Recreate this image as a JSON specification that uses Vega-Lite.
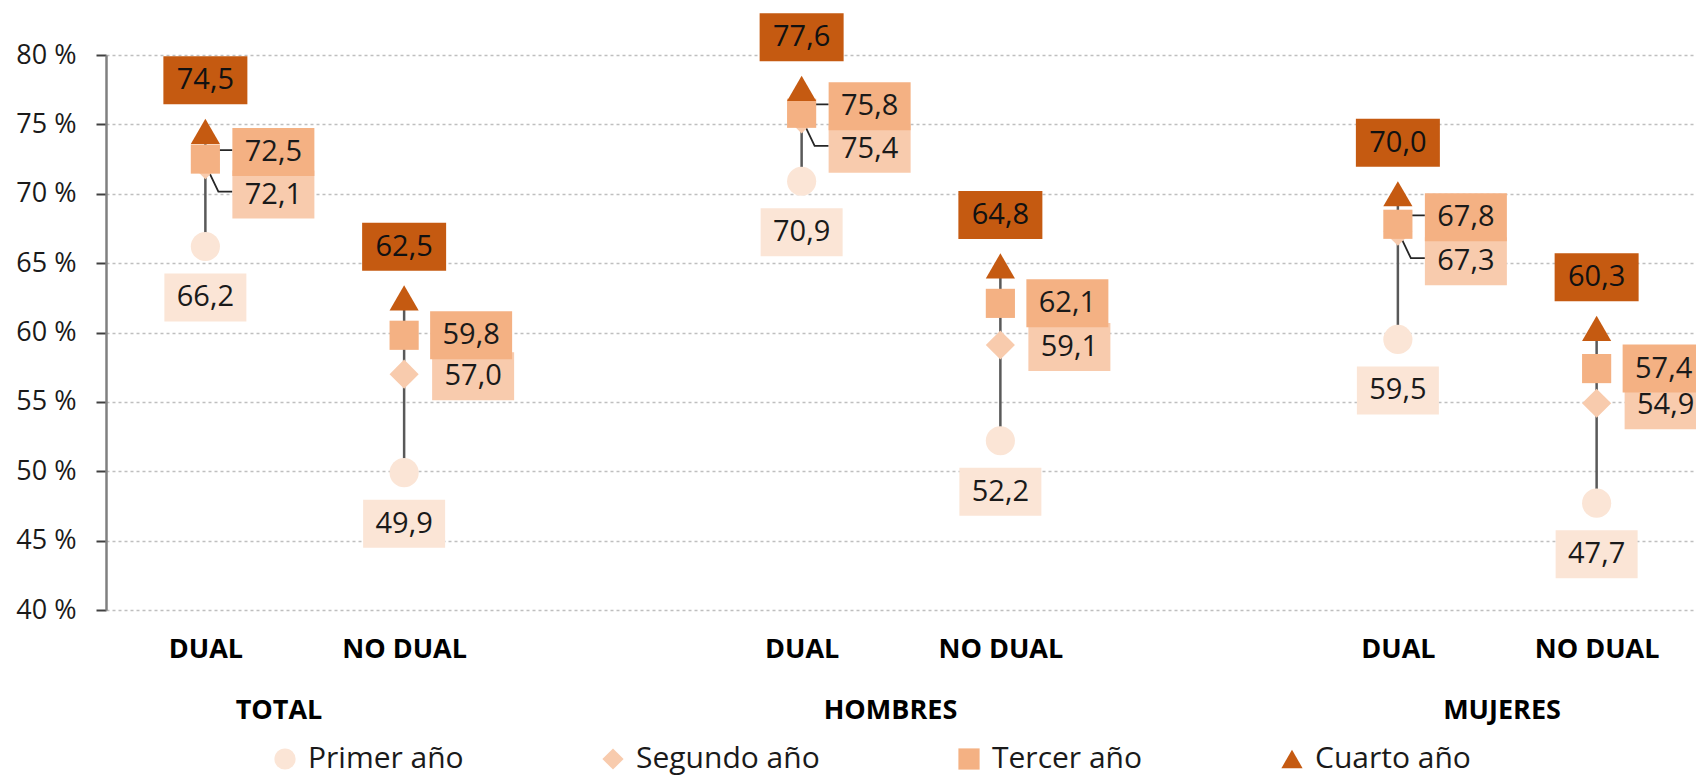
{
  "$schema": "https://vega.github.io/schema/vega-lite/v6.json",
  "width": 1590,
  "height": 555,
  "autosize": {"type": "none"},
  "padding": {"left": 106, "top": 55, "right": 0, "bottom": 167},
  "background": "white",
  "config": {
    "view": {"stroke": null},
    "font": "Open Sans",
    "locale": {"number": {"decimal": ",", "thousands": ".", "grouping": [3], "currency": ["", " €"]}}
  },
  "datasets": {
    "tasas": [
      {"cat": "TOTAL|DUAL", "grupo": "TOTAL", "tipo": "DUAL", "anio": "Primer año", "valor": 66.2},
      {"cat": "TOTAL|DUAL", "grupo": "TOTAL", "tipo": "DUAL", "anio": "Segundo año", "valor": 72.1},
      {"cat": "TOTAL|DUAL", "grupo": "TOTAL", "tipo": "DUAL", "anio": "Tercer año", "valor": 72.5},
      {"cat": "TOTAL|DUAL", "grupo": "TOTAL", "tipo": "DUAL", "anio": "Cuarto año", "valor": 74.5},
      {"cat": "TOTAL|NO DUAL", "grupo": "TOTAL", "tipo": "NO DUAL", "anio": "Primer año", "valor": 49.9},
      {"cat": "TOTAL|NO DUAL", "grupo": "TOTAL", "tipo": "NO DUAL", "anio": "Segundo año", "valor": 57.0},
      {"cat": "TOTAL|NO DUAL", "grupo": "TOTAL", "tipo": "NO DUAL", "anio": "Tercer año", "valor": 59.8},
      {"cat": "TOTAL|NO DUAL", "grupo": "TOTAL", "tipo": "NO DUAL", "anio": "Cuarto año", "valor": 62.5},
      {"cat": "HOMBRES|DUAL", "grupo": "HOMBRES", "tipo": "DUAL", "anio": "Primer año", "valor": 70.9},
      {"cat": "HOMBRES|DUAL", "grupo": "HOMBRES", "tipo": "DUAL", "anio": "Segundo año", "valor": 75.4},
      {"cat": "HOMBRES|DUAL", "grupo": "HOMBRES", "tipo": "DUAL", "anio": "Tercer año", "valor": 75.8},
      {"cat": "HOMBRES|DUAL", "grupo": "HOMBRES", "tipo": "DUAL", "anio": "Cuarto año", "valor": 77.6},
      {"cat": "HOMBRES|NO DUAL", "grupo": "HOMBRES", "tipo": "NO DUAL", "anio": "Primer año", "valor": 52.2},
      {"cat": "HOMBRES|NO DUAL", "grupo": "HOMBRES", "tipo": "NO DUAL", "anio": "Segundo año", "valor": 59.1},
      {"cat": "HOMBRES|NO DUAL", "grupo": "HOMBRES", "tipo": "NO DUAL", "anio": "Tercer año", "valor": 62.1},
      {"cat": "HOMBRES|NO DUAL", "grupo": "HOMBRES", "tipo": "NO DUAL", "anio": "Cuarto año", "valor": 64.8},
      {"cat": "MUJERES|DUAL", "grupo": "MUJERES", "tipo": "DUAL", "anio": "Primer año", "valor": 59.5},
      {"cat": "MUJERES|DUAL", "grupo": "MUJERES", "tipo": "DUAL", "anio": "Segundo año", "valor": 67.3},
      {"cat": "MUJERES|DUAL", "grupo": "MUJERES", "tipo": "DUAL", "anio": "Tercer año", "valor": 67.8},
      {"cat": "MUJERES|DUAL", "grupo": "MUJERES", "tipo": "DUAL", "anio": "Cuarto año", "valor": 70.0},
      {"cat": "MUJERES|NO DUAL", "grupo": "MUJERES", "tipo": "NO DUAL", "anio": "Primer año", "valor": 47.7},
      {"cat": "MUJERES|NO DUAL", "grupo": "MUJERES", "tipo": "NO DUAL", "anio": "Segundo año", "valor": 54.9},
      {"cat": "MUJERES|NO DUAL", "grupo": "MUJERES", "tipo": "NO DUAL", "anio": "Tercer año", "valor": 57.4},
      {"cat": "MUJERES|NO DUAL", "grupo": "MUJERES", "tipo": "NO DUAL", "anio": "Cuarto año", "valor": 60.3}
    ],
    "grupos": [
      {"grupo": "TOTAL"},
      {"grupo": "HOMBRES"},
      {"grupo": "MUJERES"}
    ]
  },
  "layer": [
    {
      "data": {"name": "tasas"},
      "encoding": {
        "x": {
          "field": "cat",
          "type": "nominal",
          "scale": {
            "type": "point",
            "padding": 0.5,
            "domain": ["TOTAL|DUAL", "TOTAL|NO DUAL", "g1", "HOMBRES|DUAL", "HOMBRES|NO DUAL", "g2", "MUJERES|DUAL", "MUJERES|NO DUAL"]
          },
          "axis": {
            "orient": "bottom",
            "title": null,
            "labelExpr": "indexof(datum.value, '|') > 0 ? split(datum.value, '|')[1] : ''",
            "labelFont": "Open Sans",
            "labelFontSize": 27,
            "labelFontWeight": "bold",
            "labelColor": "#000000",
            "labelPadding": 26,
            "labelAngle": 0,
            "ticks": false,
            "domain": false,
            "grid": false
          }
        },
        "y": {
          "field": "valor",
          "type": "quantitative",
          "scale": {"domain": [40, 80], "nice": false, "zero": false},
          "axis": {
            "title": null,
            "values": [40, 45, 50, 55, 60, 65, 70, 75, 80],
            "labelExpr": "datum.value + ' %'",
            "labelFont": "Open Sans",
            "labelFontSize": 27,
            "labelColor": "#1a1a1a",
            "labelPadding": 20,
            "tickSize": 10,
            "tickColor": "#404040",
            "tickWidth": 2,
            "domainColor": "#808080",
            "domainWidth": 2.5,
            "grid": true,
            "gridColor": "#BFBFBF",
            "gridDash": [3, 3],
            "gridWidth": 1.5
          }
        }
      },
      "layer": [
        {
          "mark": {"type": "rule", "color": "#595959", "strokeWidth": 2.5},
          "encoding": {
            "y": {
              "aggregate": "min",
              "field": "valor",
              "type": "quantitative",
              "scale": {"domain": [40, 80], "nice": false, "zero": false},
              "axis": {
                "title": null,
                "values": [40, 45, 50, 55, 60, 65, 70, 75, 80],
                "labelExpr": "datum.value + ' %'",
                "labelFont": "Open Sans",
                "labelFontSize": 27,
                "labelColor": "#1a1a1a",
                "labelPadding": 20,
                "tickSize": 10,
                "tickColor": "#404040",
                "tickWidth": 2,
                "domainColor": "#808080",
                "domainWidth": 2.5,
                "grid": true,
                "gridColor": "#BFBFBF",
                "gridDash": [3, 3],
                "gridWidth": 1.5
              }
            },
            "y2": {"aggregate": "max", "field": "valor"}
          }
        },
        {
          "transform": [{"filter": "datum.tipo == 'DUAL' && datum.anio == 'Segundo año'"}],
          "mark": {"type": "point", "shape": "M2,4 L13,27 L27,27", "size": 4, "filled": false, "stroke": "#262626", "strokeWidth": 1.8, "opacity": 1}
        },
        {
          "transform": [{"filter": "datum.tipo == 'DUAL' && datum.anio == 'Tercer año'"}],
          "mark": {"type": "point", "shape": "M2,-3 L13,-9 L27,-9", "size": 4, "filled": false, "stroke": "#262626", "strokeWidth": 1.8, "opacity": 1}
        },
        {
          "mark": {"type": "point", "filled": true, "size": 850, "opacity": 1, "strokeWidth": 0},
          "encoding": {
            "color": {
              "field": "anio",
              "type": "nominal",
              "scale": {"domain": ["Primer año", "Segundo año", "Tercer año", "Cuarto año"], "range": ["#FBE5D6", "#F8CBAD", "#F4B183", "#C55A11"]},
              "legend": {"title": null, "orient": "none", "legendX": 164, "legendY": 689, "direction": "horizontal", "columnPadding": 134, "symbolSize": 450, "labelFont": "Open Sans", "labelFontSize": 30, "labelColor": "#1a1a1a", "labelOffset": 8, "symbolStrokeWidth": 0, "padding": 0, "labelLimit": 300}
            },
            "shape": {
              "field": "anio",
              "type": "nominal",
              "scale": {"domain": ["Primer año", "Segundo año", "Tercer año", "Cuarto año"], "range": ["circle", "diamond", "square", "triangle-up"]},
              "legend": {"title": null, "orient": "none", "legendX": 164, "legendY": 689, "direction": "horizontal", "columnPadding": 134, "symbolSize": 450, "labelFont": "Open Sans", "labelFontSize": 30, "labelColor": "#1a1a1a", "labelOffset": 8, "symbolStrokeWidth": 0, "padding": 0, "labelLimit": 300}
            }
          }
        },
        {
          "transform": [{"filter": "datum.anio == 'Primer año'"}],
          "mark": {"type": "point", "shape": "M-41,27 L41,27 L41,75 L-41,75 Z", "size": 4, "filled": true, "color": "#FBE5D6", "opacity": 1, "strokeWidth": 0}
        },
        {
          "transform": [{"filter": "datum.anio == 'Primer año'"}],
          "mark": {"type": "text", "dy": 51, "font": "Open Sans", "fontSize": 29, "color": "#1a1a1a", "align": "center", "baseline": "middle"},
          "encoding": {"text": {"field": "valor", "type": "quantitative", "format": ".1f"}}
        },
        {
          "transform": [{"filter": "datum.anio == 'Segundo año' && datum.tipo == 'NO DUAL'"}],
          "mark": {"type": "point", "shape": "M28,-22 L110,-22 L110,26 L28,26 Z", "size": 4, "filled": true, "color": "#F8CBAD", "opacity": 1, "strokeWidth": 0}
        },
        {
          "transform": [{"filter": "datum.anio == 'Segundo año' && datum.tipo == 'NO DUAL'"}],
          "mark": {"type": "text", "dx": 69, "dy": 2, "font": "Open Sans", "fontSize": 29, "color": "#1a1a1a", "align": "center", "baseline": "middle"},
          "encoding": {"text": {"field": "valor", "type": "quantitative", "format": ".1f"}}
        },
        {
          "transform": [{"filter": "datum.anio == 'Segundo año' && datum.tipo == 'DUAL'"}],
          "mark": {"type": "point", "shape": "M27,6 L109,6 L109,54 L27,54 Z", "size": 4, "filled": true, "color": "#F8CBAD", "opacity": 1, "strokeWidth": 0}
        },
        {
          "transform": [{"filter": "datum.anio == 'Segundo año' && datum.tipo == 'DUAL'"}],
          "mark": {"type": "text", "dx": 68, "dy": 30, "font": "Open Sans", "fontSize": 29, "color": "#1a1a1a", "align": "center", "baseline": "middle"},
          "encoding": {"text": {"field": "valor", "type": "quantitative", "format": ".1f"}}
        },
        {
          "transform": [{"filter": "datum.anio == 'Tercer año' && datum.tipo == 'NO DUAL'"}],
          "mark": {"type": "point", "shape": "M26,-24 L108,-24 L108,24 L26,24 Z", "size": 4, "filled": true, "color": "#F4B183", "opacity": 1, "strokeWidth": 0}
        },
        {
          "transform": [{"filter": "datum.anio == 'Tercer año' && datum.tipo == 'NO DUAL'"}],
          "mark": {"type": "text", "dx": 67, "dy": 0, "font": "Open Sans", "fontSize": 29, "color": "#1a1a1a", "align": "center", "baseline": "middle"},
          "encoding": {"text": {"field": "valor", "type": "quantitative", "format": ".1f"}}
        },
        {
          "transform": [{"filter": "datum.anio == 'Tercer año' && datum.tipo == 'DUAL'"}],
          "mark": {"type": "point", "shape": "M27,-31 L109,-31 L109,17 L27,17 Z", "size": 4, "filled": true, "color": "#F4B183", "opacity": 1, "strokeWidth": 0}
        },
        {
          "transform": [{"filter": "datum.anio == 'Tercer año' && datum.tipo == 'DUAL'"}],
          "mark": {"type": "text", "dx": 68, "dy": -7, "font": "Open Sans", "fontSize": 29, "color": "#1a1a1a", "align": "center", "baseline": "middle"},
          "encoding": {"text": {"field": "valor", "type": "quantitative", "format": ".1f"}}
        },
        {
          "transform": [{"filter": "datum.anio == 'Cuarto año'"}],
          "mark": {"type": "point", "shape": "M-42,-75 L42,-75 L42,-27 L-42,-27 Z", "size": 4, "filled": true, "color": "#C55A11", "opacity": 1, "strokeWidth": 0}
        },
        {
          "transform": [{"filter": "datum.anio == 'Cuarto año'"}],
          "mark": {"type": "text", "dy": -51, "font": "Open Sans", "fontSize": 29, "color": "#111111", "align": "center", "baseline": "middle"},
          "encoding": {"text": {"field": "valor", "type": "quantitative", "format": ".1f"}}
        }
      ]
    },
    {
      "data": {"name": "grupos"},
      "mark": {"type": "text", "text": ""},
      "encoding": {
        "x": {
          "field": "grupo",
          "type": "nominal",
          "scale": {"type": "point", "padding": 0.3, "align": 0.47, "domain": ["TOTAL", "HOMBRES", "MUJERES"]},
          "axis": {
            "orient": "bottom",
            "title": null,
            "labelFont": "Open Sans",
            "labelFontSize": 27,
            "labelFontWeight": "bold",
            "labelColor": "#000000",
            "labelPadding": 87,
            "labelAngle": 0,
            "ticks": false,
            "domain": false,
            "grid": false
          }
        }
      }
    }
  ],
  "resolve": {"scale": {"x": "independent"}}
}
